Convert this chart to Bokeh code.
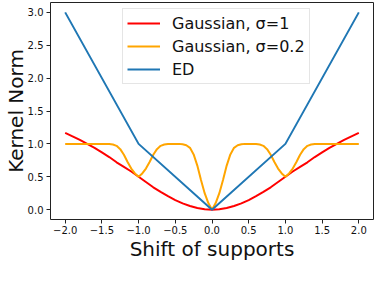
from bokeh.plotting import figure
from bokeh.models import Range1d, FixedTicker, Legend, LegendItem
from bokeh.embed import file_html
from bokeh.resources import INLINE

# ---- data ----
x_ticks = [-2.0, -1.5, -1.0, -0.5, 0.0, 0.5, 1.0, 1.5, 2.0]
x_tick_labels = ["\u22122.0", "\u22121.5", "\u22121.0", "\u22120.5", "0.0", "0.5", "1.0", "1.5", "2.0"]
y_ticks = [0.0, 0.5, 1.0, 1.5, 2.0, 2.5, 3.0]
y_tick_labels = ["0.0", "0.5", "1.0", "1.5", "2.0", "2.5", "3.0"]

shift_red = [-2.0, -1.9, -1.8, -1.7, -1.6, -1.5, -1.4, -1.3, -1.2, -1.1, -1.0,
             -0.9, -0.8, -0.7, -0.6, -0.5, -0.4, -0.3, -0.2, -0.1, 0.0,
             0.1, 0.2, 0.3, 0.4, 0.5, 0.6, 0.7, 0.8, 0.9, 1.0,
             1.1, 1.2, 1.3, 1.4, 1.5, 1.6, 1.7, 1.8, 1.9, 2.0]
gauss_sigma1 = [1.166, 1.115, 1.06, 1.0, 0.94, 0.87, 0.80, 0.72, 0.65, 0.58, 0.5,
                0.42, 0.34, 0.27, 0.205, 0.145, 0.095, 0.055, 0.024, 0.006, 0.0,
                0.006, 0.024, 0.055, 0.095, 0.145, 0.205, 0.27, 0.34, 0.42, 0.5,
                0.58, 0.65, 0.72, 0.80, 0.87, 0.94, 1.0, 1.06, 1.115, 1.166]

shift_orange = [-2.0, -1.95, -1.9, -1.85, -1.8, -1.75, -1.7, -1.65, -1.6, -1.55,
                -1.5, -1.45, -1.4, -1.35, -1.3, -1.25, -1.2, -1.15, -1.1, -1.05,
                -1.0, -0.95, -0.9, -0.85, -0.8, -0.75, -0.7, -0.65, -0.6, -0.55,
                -0.5, -0.45, -0.4, -0.35, -0.3, -0.25, -0.2, -0.15, -0.1, -0.05,
                0.0, 0.05, 0.1, 0.15, 0.2, 0.25, 0.3, 0.35, 0.4, 0.45,
                0.5, 0.55, 0.6, 0.65, 0.7, 0.75, 0.8, 0.85, 0.9, 0.95,
                1.0, 1.05, 1.1, 1.15, 1.2, 1.25, 1.3, 1.35, 1.4, 1.45,
                1.5, 1.55, 1.6, 1.65, 1.7, 1.75, 1.8, 1.85, 1.9, 1.95, 2.0]
gauss_sigma02 = [1.0, 1.0, 1.0, 1.0, 1.0, 1.0, 1.0, 1.0, 1.0, 1.0,
                 1.0, 1.0, 0.998, 0.99, 0.97, 0.92, 0.835, 0.725, 0.625, 0.55,
                 0.5, 0.55, 0.625, 0.725, 0.835, 0.92, 0.97, 0.99, 0.998, 1.0,
                 1.0, 1.0, 0.995, 0.98, 0.94, 0.84, 0.67, 0.45, 0.25, 0.10,
                 0.0, 0.10, 0.25, 0.45, 0.67, 0.84, 0.94, 0.98, 0.995, 1.0,
                 1.0, 1.0, 0.998, 0.99, 0.97, 0.92, 0.835, 0.725, 0.625, 0.55,
                 0.5, 0.55, 0.625, 0.725, 0.835, 0.92, 0.97, 0.99, 0.998, 1.0,
                 1.0, 1.0, 1.0, 1.0, 1.0, 1.0, 1.0, 1.0, 1.0, 1.0, 1.0]

shift_ed = [-2.0, -1.0, 0.0, 1.0, 2.0]
ed_norm = [3.0, 1.0, 0.0, 1.0, 3.0]

series_labels = ["Gaussian, \u03c3=1", "Gaussian, \u03c3=0.2", "ED"]
series_colors = ["#ff0000", "#ffa500", "#1f77b4"]
x_title = "Shift of supports"
y_title = "Kernel Norm"

FONT = "DejaVu Sans"

p = figure(width=374, height=282, output_backend="svg", toolbar_location=None,
           x_range=Range1d(-2.2, 2.2), y_range=Range1d(-0.15, 3.15),
           min_border_left=47, min_border_right=1, min_border_top=2,
           min_border_bottom=63)

p.grid.grid_line_color = None
p.outline_line_color = "#222222"
p.outline_line_width = 1
p.background_fill_color = "white"
p.border_fill_color = "white"

r1 = p.line(shift_red, gauss_sigma1, line_color=series_colors[0], line_width=2)
r2 = p.line(shift_orange, gauss_sigma02, line_color=series_colors[1], line_width=2)
r3 = p.line(shift_ed, ed_norm, line_color=series_colors[2], line_width=2)

for ax in (p.xaxis[0], p.yaxis[0]):
    ax.axis_line_color = None
    ax.major_tick_in = 0
    ax.major_tick_out = 4
    ax.major_tick_line_color = "#222222"
    ax.minor_tick_line_color = None
    ax.major_label_text_font = FONT
    ax.major_label_text_font_size = "10px"
    ax.major_label_text_color = "#111111"
    ax.axis_label_text_font = FONT
    ax.axis_label_text_font_size = "20px"
    ax.axis_label_text_font_style = "normal"
    ax.axis_label_text_color = "#111111"

p.xaxis[0].major_label_standoff = 2
p.yaxis[0].major_label_standoff = 3
p.xaxis[0].ticker = FixedTicker(ticks=x_ticks)
p.xaxis[0].major_label_overrides = {t: l for t, l in zip(x_ticks, x_tick_labels)}
p.yaxis[0].ticker = FixedTicker(ticks=y_ticks)
p.yaxis[0].major_label_overrides = {t: l for t, l in zip(y_ticks, y_tick_labels)}
p.xaxis[0].axis_label = x_title
p.xaxis[0].axis_label_standoff = 0
p.yaxis[0].axis_label = y_title
p.yaxis[0].axis_label_standoff = -3

legend = Legend(items=[LegendItem(label=series_labels[0], renderers=[r1]),
                       LegendItem(label=series_labels[1], renderers=[r2]),
                       LegendItem(label=series_labels[2], renderers=[r3])],
                location=(72, 135), margin=0)
legend.label_text_font = FONT
legend.label_text_font_size = "16px"
legend.label_text_color = "#111111"
legend.glyph_width = 33
legend.glyph_height = 20
legend.label_height = 20
legend.spacing = 3
legend.padding = 4
legend.label_standoff = 12
legend.border_line_color = "#cccccc"
legend.border_line_width = 1
legend.background_fill_alpha = 0.8
p.add_layout(legend)

open("out.html", "w").write(file_html(p, INLINE))
